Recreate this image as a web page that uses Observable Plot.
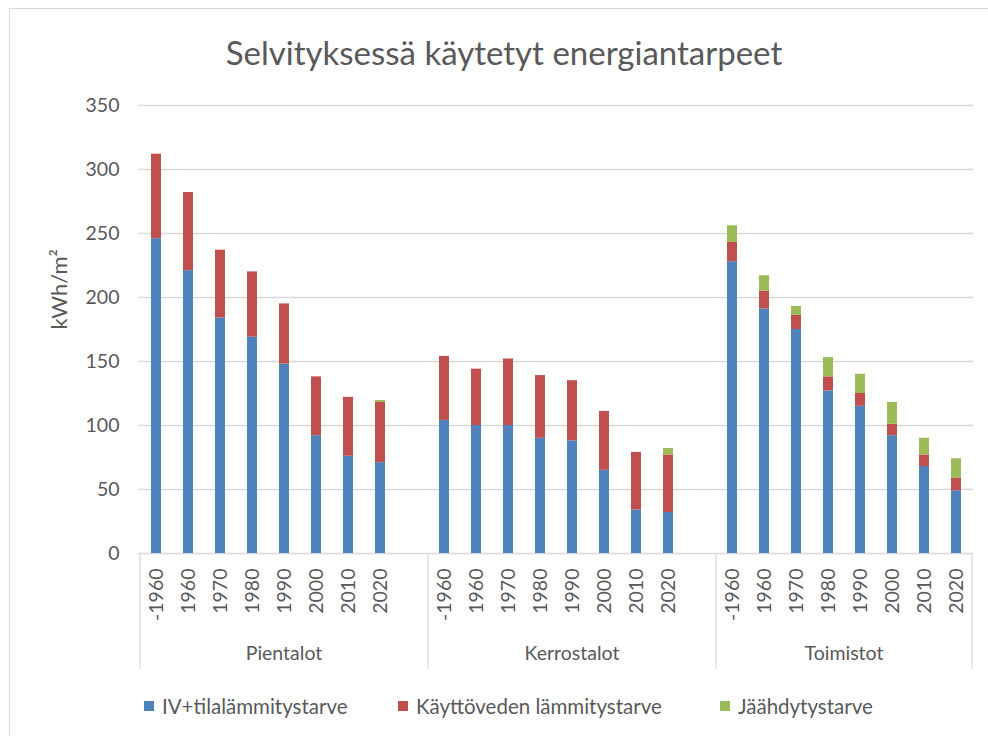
<!DOCTYPE html>
<html><head><meta charset="utf-8">
<script src="https://cdn.jsdelivr.net/npm/d3@7"></script>
<script src="https://cdn.jsdelivr.net/npm/@observablehq/plot@0.6"></script>
<style>
body{margin:0;background:#fff;overflow:hidden;font-family:Lato,"Open Sans",sans-serif;color:#595959}
#wrap{position:relative;width:988px;height:736px;overflow:hidden;background:#fff}
#frame{position:absolute;left:9px;top:8px;width:1100px;height:900px;border:1.5px solid #d9d9d9}
#title{position:absolute;left:0;width:1008px;top:29px;text-align:center;font-size:33px;line-height:46px}
#chart{position:absolute;left:0;top:80px}
#legend{position:absolute;top:692px;left:0;width:988px;height:28px;font-size:20.5px}
.item{position:absolute;top:0;height:28px;display:flex;align-items:center;white-space:nowrap}
.sw{width:10px;height:10px;margin-right:8px}
</style></head>
<body>
<div id="wrap">
  <div id="frame"></div>
  <div id="title">Selvityksessä käytetyt energiantarpeet</div>
  <div id="chart"></div>
  <div id="legend"></div>
</div>
<script>
// ---- data ----
const groups = ["Pientalot", "Kerrostalot", "Toimistot"];
const periods = ["-1960", "1960", "1970", "1980", "1990", "2000", "2010", "2020"];
const series = ["IV+tilalämmitystarve", "Käyttöveden lämmitystarve", "Jäähdytystarve"];
const colors = ["#4F81BD", "#C0504D", "#9BBB59"];
// values per group, in period order
const heating = {
  Pientalot:   [246, 221, 184, 169, 148, 92, 76, 71],
  Kerrostalot: [104, 100, 100, 90, 88, 65, 34, 32],
  Toimistot:   [228, 191, 175, 127, 115, 92, 68, 49]
};
const hotWater = {
  Pientalot:   [66, 61, 53, 51, 47, 46, 46, 47],
  Kerrostalot: [50, 44, 52, 49, 47, 46, 45, 45],
  Toimistot:   [15, 14, 11, 11, 10, 9, 9, 10]
};
const cooling = {
  Pientalot:   [0, 0, 0, 0, 0, 0, 0, 1.5],
  Kerrostalot: [0, 0, 0, 0, 0, 0, 0, 5],
  Toimistot:   [13, 12, 7, 15, 15, 17, 13, 15]
};
const yTicks = [0, 50, 100, 150, 200, 250, 300, 350];
const yLabel = "kWh/m²";

// ---- build table ----
const seriesValues = [heating, hotWater, cooling];
const keyOf = (g, p) => g + "|" + p;
const xDomain = [];
groups.forEach((g, gi) => {
  periods.forEach(p => xDomain.push(keyOf(g, p)));
  if (gi < groups.length - 1) xDomain.push(keyOf(g, "gap"));
});
const rows = [];
series.forEach((s, si) => {
  groups.forEach(g => {
    periods.forEach((p, pi) => {
      rows.push({key: keyOf(g, p), group: g, period: p, series: s, value: seriesValues[si][g][pi]});
    });
  });
});

const gridColor = "#d9d9d9";
const textColor = "#595959";

// multi-level category axis: separators + group labels
function groupAxis(index, scales, values, dims) {
  const x = scales.x;
  const step = x.step();
  const bw = x.bandwidth();
  const slotLeft = k => x(k) + bw / 2 - step / 2;
  const y0 = dims.height - dims.marginBottom;
  const g = d3.create("svg:g");
  const edges = [];
  groups.forEach((grp, gi) => {
    const first = slotLeft(keyOf(grp, periods[0]));
    const lastKey = gi < groups.length - 1 ? keyOf(grp, "gap") : keyOf(grp, periods[periods.length - 1]);
    const last = slotLeft(lastKey) + step;
    edges.push(first, last);
    g.append("text")
      .attr("x", (first + last) / 2)
      .attr("y", y0 + 102)
      .attr("text-anchor", "middle")
      .attr("dominant-baseline", "middle")
      .attr("fill", textColor)
      .attr("font-size", 19.5)
      .text(grp);
  });
  [...new Set(edges.map(e => Math.round(e * 10) / 10))].forEach(e => {
    g.append("line")
      .attr("x1", e).attr("x2", e)
      .attr("y1", y0).attr("y2", y0 + 116)
      .attr("stroke", gridColor).attr("stroke-width", 1.3);
  });
  return g.node();
}

const chart = Plot.plot({
  width: 988,
  height: 610,
  marginLeft: 138,
  marginRight: 15,
  marginTop: 25,
  marginBottom: 137,
  style: {fontFamily: "Lato, 'Open Sans', sans-serif", fontSize: "19px", color: textColor, background: "transparent"},
  x: {domain: xDomain, paddingInner: 0.69, paddingOuter: 0.345, label: null},
  y: {domain: [0, 350], label: null},
  color: {domain: series, range: colors},
  marks: [
    Plot.ruleY(yTicks, {stroke: gridColor, strokeWidth: 1.3}),
    Plot.barY(rows, Plot.stackY({x: "key", y: "value", fill: "series"})),
    Plot.axisY({ticks: yTicks, tickSize: 0, tickPadding: 19, label: null, fontSize: 19.5}),
    Plot.axisX({tickSize: 0, tickPadding: 15, tickRotate: -90, label: null, fontSize: 19.5,
      tickFormat: d => { const p = d.split("|")[1]; return p === "gap" ? "" : p; }}),
    Plot.text([yLabel], {frameAnchor: "left", dx: -79, rotate: -90, text: d => d, fontSize: 22, fill: textColor}),
    groupAxis
  ]
});
document.getElementById("chart").appendChild(chart);

// legend
const legendLeft = [144, 398, 720];
const legend = document.getElementById("legend");
series.forEach((s, i) => {
  const it = document.createElement("div");
  it.className = "item";
  it.style.left = legendLeft[i] + "px";
  it.innerHTML = `<span class="sw" style="background:${colors[i]}"></span><span>${s}</span>`;
  legend.appendChild(it);
});
</script>
</body></html>
